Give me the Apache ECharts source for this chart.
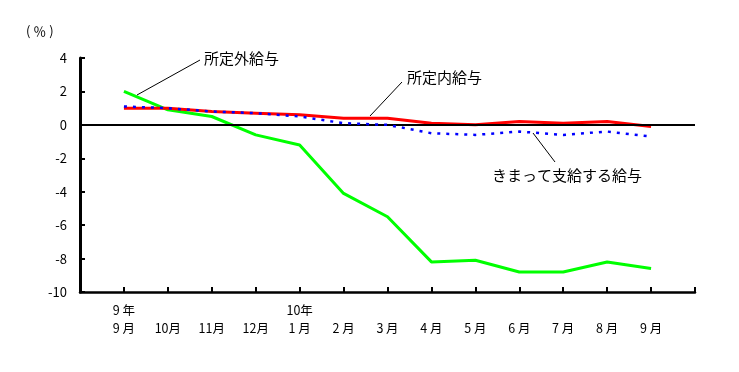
<!DOCTYPE html>
<html>
<head>
<meta charset="utf-8">
<script src="https://cdn.jsdelivr.net/npm/echarts@6/dist/echarts.min.js"></script>
<style>
html,body{margin:0;padding:0;background:#fff;}
#c{width:739px;height:372px;}
</style>
</head>
<body>
<div id="c"></div>
<script>
// Months (平成9年9月 〜 平成10年9月)
var months = ['9 月','10月','11月','12月','1 月','2 月','3 月','4 月','5 月','6 月','7 月','8 月','9 月'];
var yearMarks = ['9 年','','','','10年','','','','','','','',''];
// 前年同月比 (%)
var kimatte = [1.1, 1.0, 0.8, 0.7, 0.5, 0.1, 0.0, -0.5, -0.6, -0.4, -0.6, -0.4, -0.7];   // きまって支給する給与
var shoteinai = [1.0, 1.0, 0.8, 0.7, 0.6, 0.4, 0.4, 0.1, 0.0, 0.2, 0.1, 0.2, -0.1];    // 所定内給与
var shoteigai = [2.0, 0.9, 0.5, -0.6, -1.2, -4.1, -5.5, -8.2, -8.1, -8.8, -8.8, -8.2, -8.6]; // 所定外給与
var yTicks = [-10, -8, -6, -4, -2, 0, 2, 4];

var FONT = '"Noto Sans CJK JP", sans-serif';
function pad(a){ return [null].concat(a).concat([null]); }
var cats = [''].concat(months.map(function(m,i){ return yearMarks[i] + '\n' + m; })).concat(['']);

var chart = echarts.init(document.getElementById('c'), null, {renderer:'canvas'});
chart.setOption({
  animation: false,
  backgroundColor: '#fff',
  title: { text: '( ％ )', left: 21, top: 20, textStyle: { fontFamily: FONT, fontSize: 13, fontWeight: 'normal', color: '#000' } },
  grid: { left: 80, right: 44, top: 58, bottom: 80 },
  xAxis: {
    type: 'category', data: cats, boundaryGap: false,
    axisLine: { onZero: false, lineStyle: { color: '#000', width: 2.5 } },
    axisTick: { inside: true, length: 5, interval: 0, lineStyle: { color: '#000', width: 2 } },
    axisLabel: { interval: 0, margin: 9, lineHeight: 18, fontFamily: FONT, fontSize: 12.5, color: '#000' },
    splitLine: { show: false }
  },
  yAxis: {
    type: 'value', min: yTicks[0], max: yTicks[yTicks.length-1], interval: 2,
    axisLine: { show: true, lineStyle: { color: '#000', width: 3 } },
    axisTick: { show: true, inside: true, length: 5, lineStyle: { color: '#000', width: 2 } },
    axisLabel: { margin: 13, fontFamily: FONT, fontSize: 13, color: '#000' },
    splitLine: { show: false }
  },
  series: [
    { name: '所定外給与', type: 'line', data: pad(shoteigai), symbol: 'none', z: 3,
      lineStyle: { color: '#00ff00', width: 3 },
      markLine: { silent: true, symbol: 'none', label: { show: false },
        lineStyle: { color: '#000', width: 2, type: 'solid' }, data: [{ yAxis: 0 }] } },
    { name: '所定内給与', type: 'line', data: pad(shoteinai), symbol: 'none', z: 4,
      lineStyle: { color: '#ff0000', width: 3 } },
    { name: 'きまって支給する給与', type: 'line', data: pad(kimatte), symbol: 'none', z: 5,
      lineStyle: { color: '#0000ff', width: 2.5, type: [3, 6] } }
  ],
  graphic: [
    { type: 'line', shape: { x1: 137, y1: 95, x2: 200, y2: 60 }, style: { stroke: '#000', lineWidth: 1 }, z: 10 },
    { type: 'text', left: 204, top: 51, style: { text: '所定外給与', font: '15px ' + FONT, fill: '#000' }, z: 10 },
    { type: 'line', shape: { x1: 370, y1: 116, x2: 402, y2: 82 }, style: { stroke: '#000', lineWidth: 1 }, z: 10 },
    { type: 'text', left: 407, top: 70, style: { text: '所定内給与', font: '15px ' + FONT, fill: '#000' }, z: 10 },
    { type: 'line', shape: { x1: 533, y1: 133, x2: 555, y2: 162 }, style: { stroke: '#000', lineWidth: 1 }, z: 10 },
    { type: 'text', left: 492, top: 168, style: { text: 'きまって支給する給与', font: '15px ' + FONT, fill: '#000' }, z: 10 }
  ]
});
</script>
</body>
</html>
